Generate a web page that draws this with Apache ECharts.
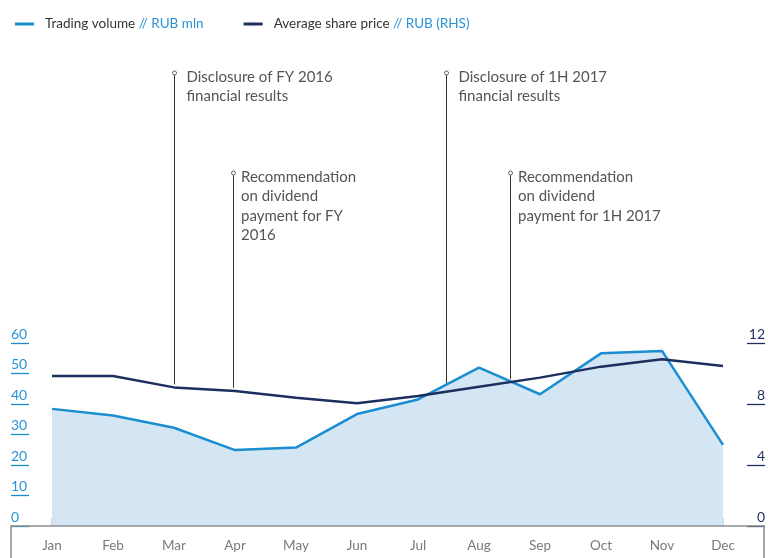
<!DOCTYPE html>
<html><head><meta charset="utf-8">
<script src="https://cdn.jsdelivr.net/npm/echarts@6/dist/echarts.min.js"></script>
<style>html,body{margin:0;padding:0;background:#fff}#c{width:768px;height:558px}</style>
</head><body><div id="c"></div>
<script>
const months = ['Jan','Feb','Mar','Apr','May','Jun','Jul','Aug','Sep','Oct','Nov','Dec'];
const tradingVolume = [38.4, 36.2, 32.2, 24.9, 25.7, 36.7, 41.5, 51.9, 43.2, 56.6, 57.4, 26.6];
const sharePrice = [9.84, 9.84, 9.09, 8.85, 8.41, 8.05, 8.52, 9.13, 9.73, 10.45, 10.93, 10.49];
const leftTicks = {min: 0, max: 60, interval: 10};
const rightTicks = {min: 0, max: 12, interval: 4};
// events: position in month index units, label lines, label level (1 = upper, 2 = lower)
const eventPos = [2.0, 2.96, 6.46, 7.51];
const eventText = [
  'Disclosure of FY 2016\nfinancial results',
  'Recommendation\non dividend\npayment for FY\n2016',
  'Disclosure of 1H 2017\nfinancial results',
  'Recommendation\non dividend\npayment for 1H 2017'
];
const eventLevel = [1, 2, 1, 2];

const FONT = 'Lato, "Open Sans", sans-serif';
const BLUE = '#1a8ed1', NAVY = '#1c2f5e';

function priceAt(x) {
  const i = Math.floor(x), f = x - i;
  if (i >= sharePrice.length - 1) return sharePrice[sharePrice.length - 1];
  return sharePrice[i] + (sharePrice[i + 1] - sharePrice[i]) * f;
}

const chart = echarts.init(document.getElementById('c'), null, {renderer: 'canvas'});
const legendNames = {
  'Trading volume': '{a|Trading volume}{b| // RUB mln}',
  'Average share price': '{a|Average share price}{b| // RUB (RHS)}'
};
chart.setOption({
  animation: false,
  textStyle: {fontFamily: FONT},
  legend: {
    left: 10, top: 12, itemWidth: 19, itemHeight: 3, itemGap: 40, icon: 'rect',
    data: ['Trading volume', 'Average share price'],
    formatter: n => legendNames[n],
    textStyle: {
      padding: [0, 0, 0, 6],
      rich: {
        a: {color: '#333', fontSize: 13.5, fontFamily: FONT},
        b: {color: '#2a93d5', fontSize: 13.5, fontFamily: FONT}
      }
    }
  },
  grid: {left: 21.5, right: 13.5, top: 343, bottom: 32, containLabel: false},
  xAxis: [{
    type: 'category', data: months, boundaryGap: true,
    axisLine: {show: false},
    axisTick: {show: true, alignWithLabel: true, inside: true, length: 8, lineStyle: {color: '#a9d0ec', width: 1.5}},
    axisLabel: {color: '#7a7a7a', fontSize: 13.5, margin: 13, fontFamily: FONT}
  }, {
    type: 'value', min: -0.5, max: 11.5, show: false
  }],
  yAxis: [{
    type: 'value', min: leftTicks.min, max: leftTicks.max, interval: leftTicks.interval,
    position: 'left', offset: 10.5,
    axisLine: {show: false, onZero: false},
    axisTick: {show: true, inside: true, length: 18, lineStyle: {color: BLUE, width: 1.3}},
    axisLabel: {inside: true, margin: 0, color: '#2a93d5', fontSize: 14, verticalAlign: 'bottom', padding: [0, 0, 2, 0], fontFamily: FONT},
    splitLine: {show: false}
  }, {
    type: 'value', min: rightTicks.min, max: rightTicks.max, interval: rightTicks.interval,
    position: 'right', offset: 11.5,
    axisLine: {show: false, onZero: false},
    axisTick: {show: true, inside: true, length: 18, lineStyle: {color: NAVY, width: 1.3}},
    axisLabel: {inside: true, margin: 0, color: NAVY, fontSize: 14, verticalAlign: 'bottom', padding: [0, 0, 2, 0], fontFamily: FONT},
    splitLine: {show: false}
  }],
  series: [{
    name: 'Trading volume', type: 'line', data: tradingVolume, yAxisIndex: 0,
    symbol: 'none', lineStyle: {color: BLUE, width: 2.5}, itemStyle: {color: BLUE},
    areaStyle: {color: '#d4e6f4', opacity: 1}, z: 2
  }, {
    name: 'Average share price', type: 'line', data: sharePrice, yAxisIndex: 1,
    symbol: 'none', lineStyle: {color: NAVY, width: 2.5}, itemStyle: {color: NAVY}, z: 3
  }, {
    type: 'custom', xAxisIndex: 1, yAxisIndex: 1, clip: false, z: 1, silent: true,
    data: eventPos.map((p, i) => [p, i]),
    renderItem: function (params, api) {
      const x = api.value(0), i = api.value(1);
      const bottom = api.coord([x, priceAt(x)]);
      const lvl1 = eventLevel[i] === 1;
      const topY = lvl1 ? 72 : 172;
      const px = Math.round(bottom[0]) + 0.5;
      return {
        type: 'group',
        children: [
          {type: 'line', shape: {x1: px, y1: topY + 3, x2: px, y2: bottom[1] - 3}, style: {stroke: '#333', lineWidth: 1}},
          {type: 'circle', shape: {cx: px, cy: topY + 1, r: 2}, style: {fill: '#fff', stroke: '#555', lineWidth: 0.9}},
          {type: 'text', x: px + (lvl1 ? 12 : 7.5), y: topY - 5, style: {text: eventText[i], fill: '#555', font: '15px ' + FONT, lineHeight: 19.5, textVerticalAlign: 'top'}}
        ]
      };
    }
  }],
  graphic: [{
    type: 'rect', shape: {x: 11, y: 526, width: 753, height: 40},
    style: {fill: 'none', stroke: '#8c8c8c', lineWidth: 1.5}, z: 10
  }]
});
</script></body></html>
